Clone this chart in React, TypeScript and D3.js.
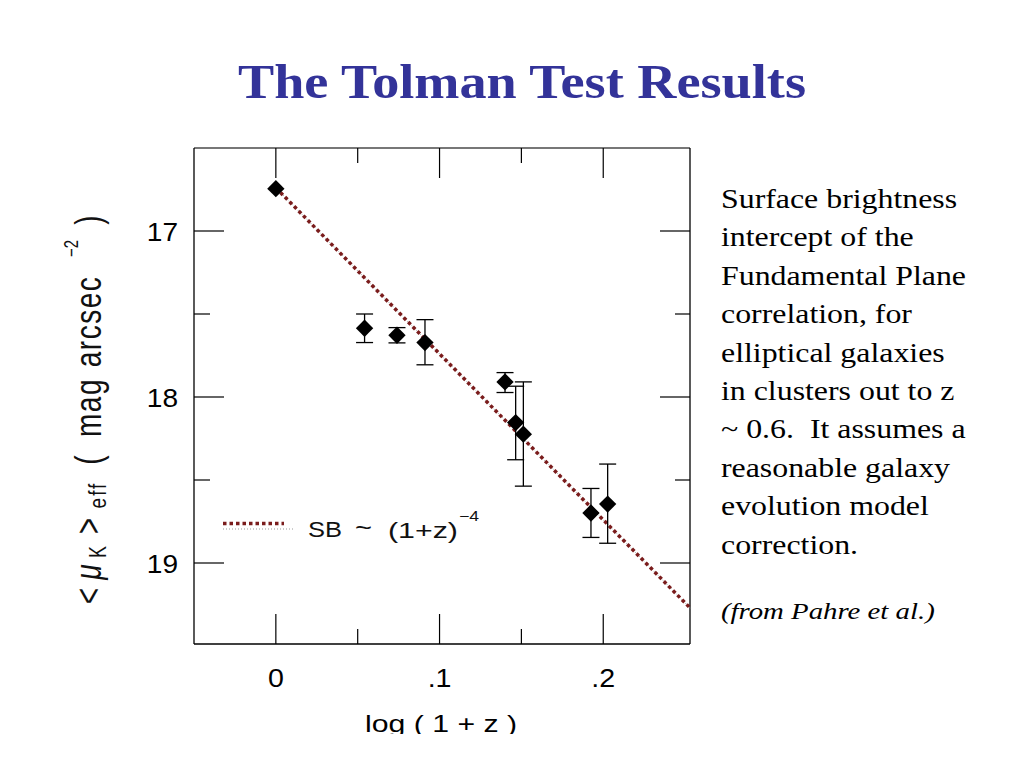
import React from "react";
import * as d3 from "d3";

const logOnePlusZ = [0.0, 0.0542, 0.074, 0.0911, 0.140, 0.1465, 0.1512, 0.1925, 0.2027];
const muK = [16.745, 17.586, 17.628, 17.672, 17.909, 18.154, 18.224, 18.699, 18.645];
const errLow = [16.745, 17.50, 17.582, 17.534, 17.853, 17.935, 17.909, 18.551, 18.404];
const errHigh = [16.745, 17.672, 17.674, 17.806, 17.973, 18.378, 18.537, 18.846, 18.881];
const xMajorTicks = [0, 0.1, 0.2];
const xTickLabels = ["0", ".1", ".2"];
const xMinorTicks = [0.05, 0.15];
const yMajorTicks = [17, 18, 19];
const yMinorTicks = [17.5, 18.5];
const fitIntercept = 16.74;
const fitSlope = 10;
const fitRange = [0, 0.253];
const textLines = [
  "Surface brightness",
  "intercept of the",
  "Fundamental Plane",
  "correlation, for",
  "elliptical galaxies",
  "in clusters out to z",
  "~ 0.6.  It assumes a",
  "reasonable galaxy",
  "evolution model",
  "correction.",
];

const W = 1035;
const H = 775;
const L = 194, R = 690, T = 148, B = 646;
const SX = 1.18;

export default function App() {
  const x = d3.scaleLinear().domain([-0.05, 0.253]).range([L, R]);
  const y = d3.scaleLinear().domain([16.5, 19.5]).range([T, B]);
  const sans = "'Liberation Sans', Arial, sans-serif";
  const serif = "'Liberation Serif', 'Times New Roman', serif";
  const diamond = d3.symbol(d3.symbolSquare, 150)() as string;
  const line = d3
    .line<number>()
    .x((d) => x(d))
    .y((d) => y(fitIntercept + fitSlope * d));
  const red = "#7a1c1c";
  const pts = logOnePlusZ.map((v, i) => ({ x: v, y: muK[i], lo: errLow[i], hi: errHigh[i] }));

  // rotated y-label pieces: [screen centre y, baseline screen x, text, size, italic, spacing]
  const yLabelParts: [number, number, string, number, boolean, number][] = [
    [596, 101, "<", 28, false, 0],
    [572, 101, "μ", 28, true, 0],
    [552, 106, "K", 18, false, 0],
    [526, 101, ">", 28, false, 0],
    [495, 106, "eff", 19, false, 2],
    [460, 101, "(", 28, false, 0],
    [407.5, 101, "mag", 28, false, 1.5],
    [321.5, 101, "arcsec", 28, false, 1.5],
    [248.5, 78, "−2", 15, false, 0],
    [220, 101, ")", 28, false, 0],
  ];

  return (
    <svg width={W} height={H} style={{ position: "absolute", left: 0, top: 0, background: "#fff" }}>
      <rect x={0} y={0} width={W} height={H} fill="#fff" />
      <text
        x={238}
        y={98}
        textLength={568}
        lengthAdjust="spacingAndGlyphs"
        fontFamily={serif}
        fontWeight="bold"
        fontSize={49}
        fill="#333399"
      >
        The Tolman Test Results
      </text>

      {/* frame */}
      <line x1={L} x2={R} y1={T} y2={T} stroke="#777" strokeWidth={2} />
      <line x1={L} x2={R} y1={B - 2} y2={B - 2} stroke="#000" strokeWidth={1.3} />
      <line x1={L} x2={L} y1={T} y2={B - 2} stroke="#000" strokeWidth={1.3} />
      <line x1={R} x2={R} y1={T} y2={B - 2} stroke="#000" strokeWidth={1.3} />

      {/* x ticks */}
      {xMajorTicks.map((t) => (
        <g key={"xm" + t}>
          <line x1={x(t)} x2={x(t)} y1={B - 2} y2={B - 32} stroke="#000" strokeWidth={1.2} />
          <line x1={x(t)} x2={x(t)} y1={T} y2={T + 30} stroke="#000" strokeWidth={1.2} />
        </g>
      ))}
      {xMinorTicks.map((t) => (
        <g key={"xn" + t}>
          <line x1={x(t)} x2={x(t)} y1={B - 2} y2={B - 17} stroke="#000" strokeWidth={1.2} />
          <line x1={x(t)} x2={x(t)} y1={T} y2={T + 15} stroke="#000" strokeWidth={1.2} />
        </g>
      ))}
      {xMajorTicks.map((t, i) => (
        <text
          key={"xl" + t}
          transform={`translate(${x(t)},687) scale(1.1,1)`}
          textAnchor="middle"
          fontFamily={sans}
          fontSize={26}
          fill="#000"
        >
          {xTickLabels[i]}
        </text>
      ))}
      <text
        x={365}
        y={732}
        textLength={152}
        lengthAdjust="spacingAndGlyphs"
        fontFamily={sans}
        fontSize={24}
        fill="#000"
      >
        log ( 1 + z )
      </text>
      <rect x={0} y={734} width={W} height={H - 734} fill="#fff" />

      {/* y ticks */}
      {yMajorTicks.map((t) => (
        <g key={"ym" + t}>
          <line x1={L} x2={L + 30} y1={y(t)} y2={y(t)} stroke="#000" strokeWidth={1.2} />
          <line x1={R} x2={R - 30} y1={y(t)} y2={y(t)} stroke="#000" strokeWidth={1.2} />
          <text
            transform={`translate(178,${y(t) + 9.5}) scale(1.08,1)`}
            textAnchor="end"
            fontFamily={sans}
            fontSize={26}
            fill="#000"
          >
            {t}
          </text>
        </g>
      ))}
      {yMinorTicks.map((t) => (
        <g key={"yn" + t}>
          <line x1={L} x2={L + 16} y1={y(t)} y2={y(t)} stroke="#000" strokeWidth={1.2} />
          <line x1={R} x2={R - 15} y1={y(t)} y2={y(t)} stroke="#000" strokeWidth={1.2} />
        </g>
      ))}

      {/* y label */}
      {yLabelParts.map(([cy, bx, s, fs, it, ls], i) => (
        <text
          key={"yl" + i}
          transform={`translate(${bx},${cy}) rotate(-90) scale(1,1.3)`}
          textAnchor="middle"
          fontFamily={sans}
          fontSize={fs}
          fontStyle={it ? "italic" : "normal"}
          letterSpacing={ls}
          fill="#111"
        >
          {s}
        </text>
      ))}

      {/* fit line */}
      <path d={line(fitRange) as string} fill="none" stroke="#999" strokeWidth={1} strokeDasharray="1 2" transform="translate(1,1)" />
      <path d={line(fitRange) as string} fill="none" stroke={red} strokeWidth={3.5} strokeDasharray="3.5 3" />

      {/* error bars and points */}
      {pts.map((p, i) => (
        <g key={"p" + i}>
          {p.hi - p.lo > 0.02 && (
            <g stroke="#000" strokeWidth={1.3}>
              <line x1={x(p.x)} x2={x(p.x)} y1={y(p.lo)} y2={y(p.hi)} />
              <line x1={x(p.x) - 8.5} x2={x(p.x) + 8.5} y1={y(p.lo)} y2={y(p.lo)} />
              <line x1={x(p.x) - 8.5} x2={x(p.x) + 8.5} y1={y(p.hi)} y2={y(p.hi)} />
            </g>
          )}
          <path d={diamond} transform={`translate(${x(p.x)},${y(p.y)}) rotate(45)`} fill="#000" />
        </g>
      ))}

      {/* legend */}
      <line x1={223} x2={284} y1={523.5} y2={523.5} stroke={red} strokeWidth={3.5} strokeDasharray="3.5 3" />
      <line x1={223} x2={293} y1={529} y2={529} stroke="#999" strokeWidth={1} strokeDasharray="1 2" />
      <g fontFamily={sans} fill="#111">
        <text x={308} y={537} fontSize={22} textLength={34} lengthAdjust="spacingAndGlyphs">SB</text>
        <text x={355} y={536} fontSize={24} textLength={17} lengthAdjust="spacingAndGlyphs">~</text>
        <text x={388} y={538} fontSize={22} textLength={70} lengthAdjust="spacingAndGlyphs">(1+z)</text>
        <text x={459} y={521} fontSize={14} textLength={20} lengthAdjust="spacingAndGlyphs">−4</text>
      </g>

      {/* description text */}
      <text transform={`translate(721,0) scale(${SX},1)`} fontFamily={serif} fontSize={27} fill="#000">
        {textLines.map((t, i) => (
          <tspan key={i} x={0} y={208 + i * 38.4} style={{ whiteSpace: "pre" }}>
            {t}
          </tspan>
        ))}
      </text>
      <text
        transform="translate(721,619) scale(1.2,1)"
        fontFamily={serif}
        fontStyle="italic"
        fontSize={24}
        fill="#000"
      >
        (from Pahre et al.)
      </text>
    </svg>
  );
}
